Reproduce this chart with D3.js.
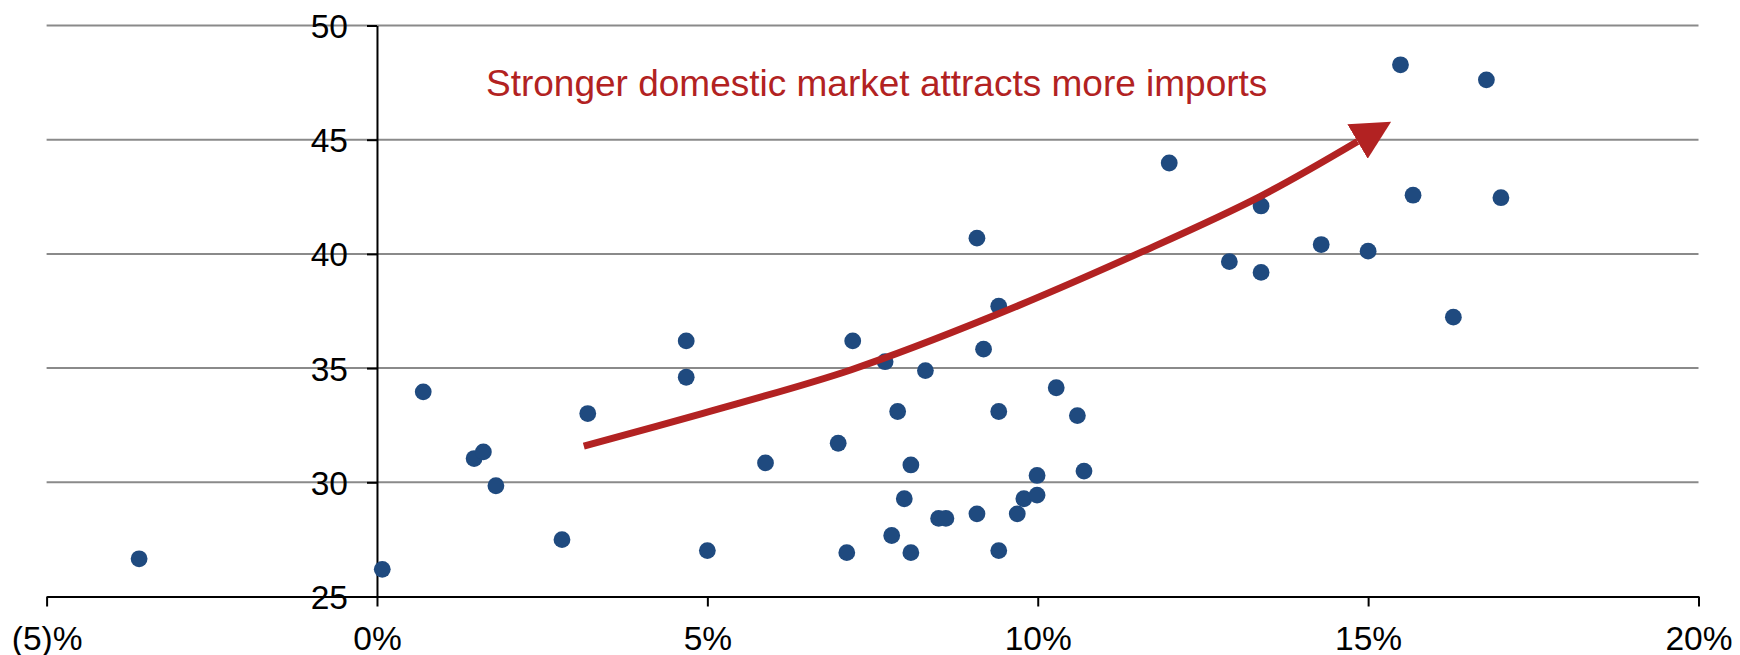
<!DOCTYPE html>
<html>
<head>
<meta charset="utf-8">
<script src="https://cdn.jsdelivr.net/npm/d3@7"></script>
<style>
  html, body { margin: 0; padding: 0; background: #fff; }
  svg { display: block; font-family: "Liberation Sans", Arial, sans-serif; }
</style>
</head>
<body>
<svg id="chart" width="1740" height="655"></svg>
<script>
// Domestic market growth (x, %) against import measure (y)
const growthPct = [
  -3.60, 0.08, 0.70, 3.19, 1.47, 1.61, 1.80, 2.80,
  4.68, 4.68, 5.00, 5.88, 6.98, 7.20, 7.11, 7.69, 7.79, 7.88,
  8.08, 7.98, 8.08, 8.30, 8.50, 8.61, 9.08, 9.08, 9.41, 9.18,
  9.41, 9.41, 9.69, 9.79, 9.99, 9.99, 10.28, 10.60, 10.70,
  11.99, 13.38, 12.90, 13.38, 14.29, 15.00, 15.49, 16.79, 15.68, 17.01, 16.29
];
const importValue = [
  26.65, 26.19, 33.96, 33.01, 31.04, 31.33, 29.85, 27.49,
  36.19, 34.60, 27.01, 30.85, 31.71, 36.19, 26.92, 35.28, 27.67, 33.10,
  30.76, 29.28, 26.92, 34.89, 28.42, 28.42, 40.69, 28.62, 37.71, 35.83,
  33.10, 27.01, 28.62, 29.28, 29.44, 30.30, 34.14, 32.92, 30.49,
  43.98, 42.10, 39.66, 39.19, 40.41, 40.12, 48.28, 47.62, 42.57, 42.46, 37.23
];

const xTicks = [-5, 0, 5, 10, 15, 20];
const yTicks = [25, 30, 35, 40, 45, 50];

// Trend arrow path, in data units
const arrowX = [3.13, 4.92, 7.18, 9.35, 11.60, 13.37, 14.84];
const arrowY = [31.58, 33.01, 34.93, 37.31, 40.12, 42.52, 44.92];
const annotation = "Stronger domestic market attracts more imports";

const svg = d3.select("#chart");
const x = d3.scaleLinear().domain([-5, 20]).range([46.6, 1698.5]);
const y = d3.scaleLinear().domain([25, 50]).range([596.5, 25.5]);

const dotColor = "#1f4a7f";
const red = "#b22222";

// horizontal gridlines
svg.append("g")
  .selectAll("line")
  .data(yTicks.filter(d => d > 25))
  .join("line")
  .attr("x1", x(-5)).attr("x2", x(20))
  .attr("y1", d => y(d)).attr("y2", d => y(d))
  .attr("stroke", "#8a8a8a")
  .attr("stroke-width", 2);

// x axis
const fmtX = v => v < 0 ? `(${-v})%` : `${v}%`;
const gx = svg.append("g")
  .attr("transform", `translate(0,${y(25)})`)
  .call(d3.axisBottom(x).tickValues(xTicks).tickFormat(fmtX).tickSize(10).tickSizeOuter(0));
gx.select(".domain").attr("stroke", "#000").attr("stroke-width", 2);
gx.selectAll(".tick line").attr("stroke", "#000").attr("stroke-width", 2);
gx.selectAll(".tick text")
  .attr("y", 53).attr("dy", null)
  .attr("fill", "#000")
  .style("font-size", "33.5px")
  .style("font-family", "'Liberation Sans', Arial, sans-serif");

// y axis at 0%
const gy = svg.append("g")
  .attr("transform", `translate(${x(0)},0)`)
  .call(d3.axisLeft(y).tickValues(yTicks).tickSize(10).tickPadding(19).tickSizeOuter(0));
gy.select(".domain").attr("stroke", "#000").attr("stroke-width", 2);
gy.selectAll(".tick line").attr("stroke", "#000").attr("stroke-width", 2);
gy.selectAll(".tick text")
  .attr("dy", "0.36em")
  .attr("fill", "#000")
  .style("font-size", "33.5px")
  .style("font-family", "'Liberation Sans', Arial, sans-serif");

// scatter points
svg.append("g")
  .selectAll("circle")
  .data(growthPct.map((g, i) => [g, importValue[i]]))
  .join("circle")
  .attr("cx", d => x(d[0]))
  .attr("cy", d => y(d[1]))
  .attr("r", 8.4)
  .attr("fill", dotColor);

// trend arrow
const defs = svg.append("defs");
defs.append("marker")
  .attr("id", "head")
  .attr("markerUnits", "userSpaceOnUse")
  .attr("viewBox", "0 0 39 40")
  .attr("markerWidth", 39).attr("markerHeight", 40)
  .attr("refX", 0).attr("refY", 20)
  .attr("orient", "auto")
  .append("path")
  .attr("d", "M0,0 L39,20 L0,40 Z")
  .attr("fill", red);

const arrowLine = d3.line()
  .x(d => x(d[0]))
  .y(d => y(d[1]))
  .curve(d3.curveCatmullRom);

svg.append("path")
  .datum(arrowX.map((v, i) => [v, arrowY[i]]))
  .attr("d", arrowLine)
  .attr("fill", "none")
  .attr("stroke", red)
  .attr("stroke-width", 7)
  .attr("marker-end", "url(#head)");

svg.append("text")
  .attr("x", 486)
  .attr("y", 95.5)
  .attr("fill", red)
  .style("font-size", "37px")
  .text(annotation);
</script>
</body>
</html>
